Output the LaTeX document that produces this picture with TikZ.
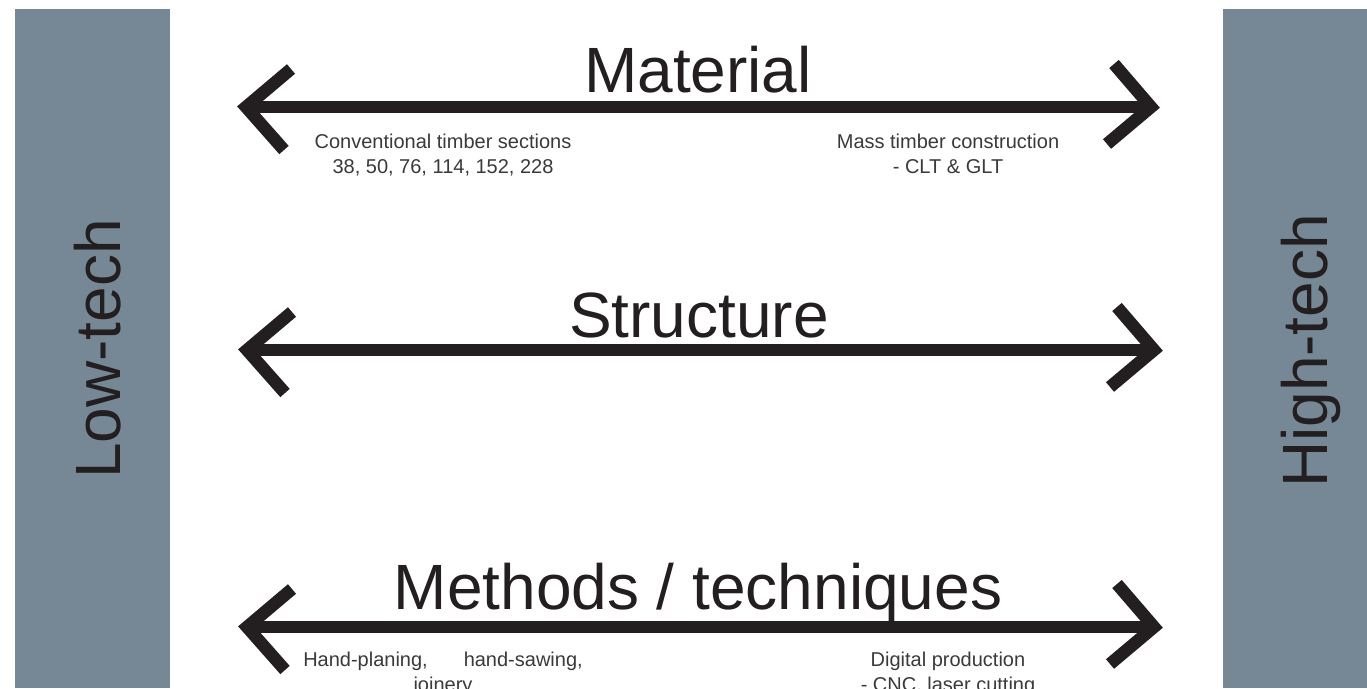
\documentclass[tikz,border=0pt]{standalone}
\usepackage{fontspec}
\setmainfont{Liberation Sans}
\definecolor{bargray}{HTML}{768895}
\definecolor{inkblack}{HTML}{231F20}
\definecolor{notegray}{HTML}{3A3A3A}
\begin{document}
\begin{tikzpicture}[x=1pt,y=-1pt,
  bar/.style={fill=bargray,draw=none,inner sep=0pt,anchor=north west},
  arrowline/.style={line width=12.5pt,draw=inkblack,line join=miter,line cap=butt},
  title/.style={font=\fontsize{64}{70}\selectfont,text=inkblack,inner sep=0pt,anchor=base},
  note/.style={font=\fontsize{20}{25}\selectfont,text=notegray,inner sep=0pt,align=center,anchor=base},
  side/.style={font=\fontsize{64}{70}\selectfont,text=inkblack,inner sep=0pt,rotate=90,anchor=base}]
\useasboundingbox (0,0) rectangle (1367,688);
\fill[white] (0,0) rectangle (1367,688);
% side bars
\node[bar,minimum width=155pt,minimum height=679pt] (lowbar) at (15,9) {};
\node[bar,minimum width=144pt,minimum height=679pt] (highbar) at (1223,9) {};
\node[side] (low) at (120,349) {Low-tech};
\node[side] (high) at (1327,351) {High-tech};
% arrow end points (centre-line apexes)
\coordinate (mL) at (246,107);
\coordinate (mR) at (1151,107);
\coordinate (sL) at (247,350);
\coordinate (sR) at (1154,350);
\coordinate (tL) at (247,627);
\coordinate (tR) at (1154,627);
% arrows
\foreach \l/\r in {mL/mR,sL/sR,tL/tR}{
  \draw[arrowline] (\l) -- (\r);
  \draw[arrowline] ([shift={(45,-38)}]\l) -- (\l) -- ([shift={(38,43)}]\l);
  \draw[arrowline] ([shift={(-37,-43)}]\r) -- (\r) -- ([shift={(-44,37)}]\r);
}
% titles
\node[title] (material) at (698,92) {Material};
\node[title] (structure) at (699,337) {Structure};
\node[title] (methods) at (698,609) {Methods / techniques};
% notes (anchor base = baseline of last line)
\node[note] (conv) at (443,173) {Conventional timber sections\\38, 50, 76, 114, 152, 228};
\node[note] (mass) at (948,173) {Mass timber construction\\- CLT \& GLT};
\node[note] (hand) at (443,691) {Hand-planing,\hspace{36pt}hand-sawing,\\joinery};
\node[note] (digi) at (948,691) {Digital production\\- CNC, laser cutting};
\end{tikzpicture}
\end{document}
